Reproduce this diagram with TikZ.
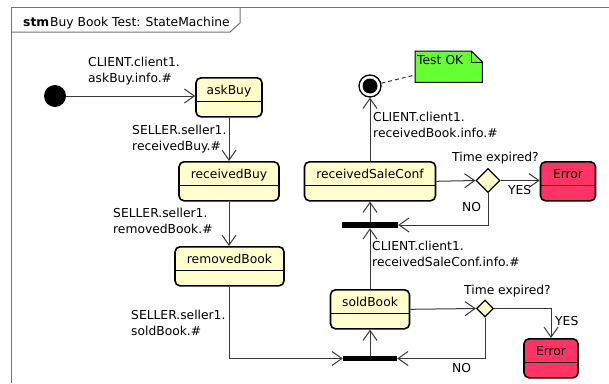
\documentclass[tikz,border=0pt]{standalone}
\usepackage{fontspec}
\setmainfont{DejaVu Sans}
\usepackage{tikz}
\usetikzlibrary{positioning, arrows.meta, shapes.geometric, backgrounds}

\definecolor{stateyellow}{RGB}{255,255,204}
\definecolor{errorred}{RGB}{255,51,102}
\definecolor{notegreen}{RGB}{102,255,51}
\definecolor{linegray}{RGB}{56,56,56}

\begin{document}
\begin{tikzpicture}[x=1pt, y=-1pt,
    font=\fontsize{12.3}{16}\selectfont,
    stmframe/.style={draw=black!55, line width=1pt},
    state/.style={draw, line width=1.6pt, rounded corners=5pt, fill=stateyellow,
      anchor=north, inner xsep=0pt, inner ysep=0pt, text height=17pt, text depth=22pt,
      path picture={\draw[line width=0.8pt]
        ([yshift=-24pt]path picture bounding box.north west) --
        ([yshift=-24pt]path picture bounding box.north east);}},
    errstate/.style={state, fill=errorred},
    joinbar/.style={fill=black, inner sep=0pt},
    choice/.style={diamond, draw, line width=1.2pt, fill=stateyellow, inner sep=0pt},
    flow/.style={draw=linegray, line width=1pt, -{Straight Barb[length=10pt, width=14pt]}},
    lbl/.style={anchor=north west, inner sep=0pt, align=left},
  ]
    \useasboundingbox (0,0) rectangle (609,383);

    % Draw frame and tab
    \draw[stmframe] (11,383) -- (11,7) -- (609,7);
    \draw[stmframe] (11,32) -- (230,32) -- (240,23) -- (240,7);
    \node[anchor=base west, inner sep=0pt] (title) at (23,26) {\textbf{stm}\kern1pt Buy Book Test: StateMachine};

    % Initial and final states
    \node[circle, fill=black, inner sep=0pt, minimum size=22pt] (init) at (55,96) {};
    \node[circle, draw, line width=1.3pt, fill=white, inner sep=0pt, minimum size=22pt] (final) at (370,86) {};
    \node[circle, fill=black, inner sep=0pt, minimum size=15pt] (finalDot) at (final) {};

    % States
    \node[state, minimum width=66pt] (askBuy) at (229,77) {askBuy};
    \node[state, minimum width=100pt] (receivedBuy) at (229,161) {receivedBuy};
    \node[state, minimum width=109pt] (removedBook) at (229.5,246) {removedBook};
    \node[state, minimum width=79pt] (soldBook) at (370,289) {soldBook};
    \node[state, minimum width=131pt] (receivedSaleConf) at (370,161) {receivedSaleConf};
    \node[errstate, minimum width=55pt] (errA) at (568,161) {Error};
    \node[errstate, minimum width=54pt] (errB) at (551,338) {Error};

    % Join bars and choices
    \node[joinbar, minimum width=56pt, minimum height=6pt] (barA) at (370,225) {};
    \node[joinbar, minimum width=54pt, minimum height=5pt] (barB) at (370,358.5) {};
    \node[choice, minimum width=24pt, minimum height=24pt] (decA) at (488,180.5) {};
    \node[choice, minimum width=17pt, minimum height=17pt] (decB) at (485,308.5) {};

    % Note
    \node[anchor=north west, inner xsep=2pt, inner ysep=0pt, text width=63pt, align=left,
      text height=13pt, text depth=18pt] (note) at (415,51) {Test OK};
    \begin{scope}[on background layer]
      \draw[line width=1pt, fill=notegreen] (note.north west) -- ([xshift=-11pt]note.north east)
        -- ([yshift=-11pt]note.north east) -- (note.south east) -- (note.south west) -- cycle;
    \end{scope}
    \draw[line width=0.8pt] ([xshift=-11pt]note.north east) -- ([xshift=-11pt,yshift=-11pt]note.north east)
      -- ([yshift=-11pt]note.north east);

    % Transitions
    \draw[flow] (init.east) -- (init.east -| askBuy.west);
    \draw[flow] (askBuy.south) -- (receivedBuy.north);
    \draw[flow] (receivedBuy.south) -- (receivedBuy.south |- removedBook.north);
    \draw[flow] (removedBook.south) |- (barB.west);
    \draw[flow] (barB.north) -- (barB.north |- soldBook.south);
    \draw[flow] (soldBook.east) -- (decB.west);
    \draw[flow] (decB.east) -| (errB.north);
    \draw[flow] (decB.south) |- (barB.east);
    \draw[flow] (soldBook.north) -- (soldBook.north |- barA.south);
    \draw[flow] (barA.north) -- (barA.north |- receivedSaleConf.south);
    \draw[flow] (receivedSaleConf.east) -- (decA.west);
    \draw[flow] (decA.east) -- (decA.east -| errA.west);
    \draw[flow] (decA.south) |- (barA.east);
    \draw[flow] (receivedSaleConf.north) -- (final.south);
    \draw[linegray, line width=1pt, dash pattern=on 4pt off 3pt] (final) -- (note);

    % Labels
    \foreach \n/\x/\y/\t in {l1/88/56.5/{CLIENT.client1.\\askBuy.info.\#},
        l2/132/124.5/{SELLER.seller1.\\receivedBuy.\#},
        l3/113/207.5/{SELLER.seller1.\\removedBook.\#},
        l4/131/309.5/{SELLER.seller1.\\soldBook.\#},
        l5/373/111.5/{CLIENT.client1.\\receivedBook.info.\#},
        l6/372/240.5/{CLIENT.client1.\\receivedSaleConf.info.\#},
        t1/452/151.5/{Time expired?},
        t2/464/284.5/{Time expired?},
        y1/508/185/{YES},
        y2/555/316/{YES},
        n1/462/202/{NO},
        n2/452/363/{NO}} {
      \node[lbl] (\n) at (\x,\y) {\t};
    }

\end{tikzpicture}
\end{document}
